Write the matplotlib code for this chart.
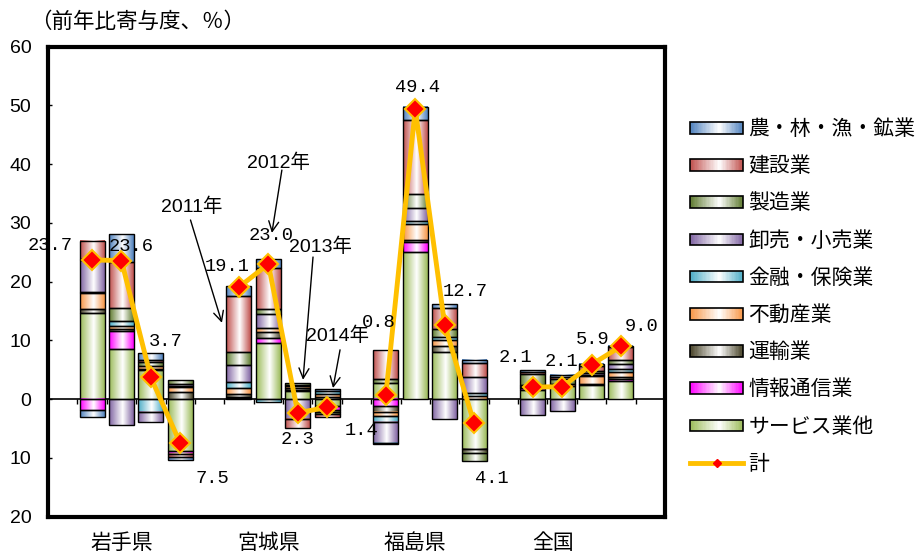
"""Stacked industry contributions to growth, with the total as a line."""

import numpy as np
import matplotlib
matplotlib.use("Agg")
import matplotlib.pyplot as plt
from matplotlib.colors import LinearSegmentedColormap
from matplotlib.legend_handler import HandlerBase
from matplotlib.lines import Line2D
from matplotlib.patches import Rectangle

plt.rcParams["font.family"] = ["Noto Sans CJK JP", "DejaVu Sans"]

regions = ["岩手県", "宮城県", "福島県", "全国"]
years = ["2011年", "2012年", "2013年", "2014年"]

# series in stacking order (first one sits next to the zero line)
industries = ["サービス業他", "情報通信業", "運輸業", "不動産業", "金融・保険業",
              "卸売・小売業", "製造業", "建設業", "農・林・漁・鉱業"]
colors = ["#9BBB59", "#FF00FF", "#494429", "#F79646", "#4BACC6",
          "#8064A2", "#5F7B30", "#C0504D", "#4F81BD"]

# contribution per bar: 岩手 2011-14, 宮城 2011-14, 福島 2011-14, 全国 2011-14
service = [14.6, 8.5, 5.0, -8.9, 0.2, 9.6, 1.4, -1.2, 2.7, 25.0, 8.0, -8.4, 1.5, 2.2, 2.4, 3.1]
info = [-1.9, 3.1, 0.0, -0.4, 0.2, 0.8, 0.2, -0.6, -1.2, 1.7, 0.0, 0.0, 0.4, 0.0, 0.0, 0.3]
transport = [0.8, 0.4, 0.2, 1.3, 0.5, 1.0, 0.3, 0.4, -1.0, 0.4, 1.1, -0.7, 0.2, 0.0, 0.2, 0.4]
real_estate = [2.6, 0.5, 0.5, 0.8, 1.0, 0.8, 0.3, 0.5, -0.7, 2.8, 0.9, 0.5, 0.2, 0.4, 1.3, 0.8]
finance = [0.2, 0.8, -2.1, 0.2, 1.0, -0.4, 0.2, 0.5, -0.9, 0.5, 0.6, 0.5, 0.2, 0.0, 0.3, 0.6]
wholesale = [5.5, -4.4, -1.8, 0.3, 2.9, 2.3, -3.3, -0.3, -3.6, 2.1, -3.4, 2.7, -2.7, -2.0, 0.3, 0.8]
manufacturing = [0.2, 2.2, 0.6, 0.6, 2.3, 0.8, 0.3, -0.4, 0.8, 2.4, 1.3, -1.5, 1.8, 0.8, 0.3, 0.7]
construction = [3.1, 7.9, 0.4, -0.6, 9.5, 7.1, -1.6, -0.5, 4.8, 12.6, 3.7, 2.4, 0.4, 0.4, 0.8, 2.2]
primary = [-1.1, 4.7, 1.1, -0.5, 1.6, 1.4, 0.0, 0.3, -0.2, 2.3, 0.6, 0.6, 0.3, 0.4, 0.4, 0.2]
total = [23.7, 23.6, 3.7, -7.5, 19.1, 23.0, -2.3, -1.4, 0.8, 49.4, 12.7, -4.1, 2.1, 2.1, 5.9, 9.0]

series = [service, info, transport, real_estate, finance,
          wholesale, manufacturing, construction, primary]

# value label offsets from the marker, in pixels (right, down)
label_offsets = [(-42, -14), (10, -14), (15, -36), (32, 35),
                 (-12, -20), (3, -29), (0, 27), (34, 23),
                 (-7, -72), (2, -21), (21, -33), (18, 55),
                 (-17, -29), (-1, -25), (1, -25), (21, -20)]

GOLD = "#FFC000"


def gradient_cmap(color):
    return LinearSegmentedColormap.from_list(
        "grad", [(0.0, color), (0.55, "#FFFFFF"), (1.0, color)])


class HandlerGradient(HandlerBase):
    """Legend key drawn as a horizontally shaded box."""

    def __init__(self, cmap):
        super().__init__()
        self.cmap = cmap

    def create_artists(self, legend, orig_handle, xdescent, ydescent,
                       width, height, fontsize, trans):
        h = height * 0.8
        y0 = -ydescent + (height - h) / 2
        n = 40
        artists = []
        for i in range(n):
            artists.append(Rectangle((-xdescent + width * i / n, y0), width / n * 1.1, h,
                                     facecolor=self.cmap((i + 0.5) / n),
                                     edgecolor="none", transform=trans))
        artists.append(Rectangle((-xdescent, y0), width, h, facecolor="none",
                                 edgecolor="black", linewidth=1.2, transform=trans))
        return artists


fig = plt.figure(figsize=(9.2, 5.54), dpi=100)
ax = fig.add_axes([48 / 920, 37.3 / 554, 617 / 920, 470 / 554])

x = np.array([g * 5 + 1 + j for g in range(4) for j in range(4)])
width = 0.85
grad = np.linspace(0, 1, 64).reshape(1, -1)

pos_base = np.zeros(len(x))
neg_base = np.zeros(len(x))
for color, values in zip(colors, series):
    vals = np.asarray(values, dtype=float)
    bottom = np.where(vals >= 0, pos_base, neg_base)
    shown = vals != 0
    bars = ax.bar(x[shown], vals[shown], width, bottom=bottom[shown],
                  facecolor="none", edgecolor="black", linewidth=1.0, zorder=3)
    cmap = gradient_cmap(color)
    for bar in bars:
        x0, y0 = bar.get_x(), bar.get_y()
        ax.imshow(grad, cmap=cmap, aspect="auto", interpolation="bilinear",
                  extent=[x0, x0 + bar.get_width(), y0, y0 + bar.get_height()],
                  zorder=2)
    pos_base += np.where(vals > 0, vals, 0)
    neg_base += np.where(vals < 0, vals, 0)

# total line, broken between regions
slots = np.arange(21)
line_y = np.full(21, np.nan)
line_y[x] = total
ax.plot(slots, line_y, color=GOLD, linewidth=3.5, marker="D", markersize=10,
        markerfacecolor="#FF0000", markeredgecolor=GOLD, markeredgewidth=1.5, zorder=5)

for xi, v, (dx, dy) in zip(x, total, label_offsets):
    ax.annotate(f"{abs(v):.1f}", (xi, v), xytext=(dx * 0.72, -dy * 0.72),
                textcoords="offset points", ha="center", va="center",
                fontsize=13.5, family="Liberation Mono", zorder=6)

# year call-outs over the 宮城県 bars
notes = [(years[0], (4.40, 32.7), (4.35, 30.5), (5.42, 13.0)),
         (years[1], (7.36, 40.2), (7.46, 39.0), (7.12, 28.3)),
         (years[2], (8.79, 25.9), (8.52, 24.2), (8.18, 3.3)),
         (years[3], (9.37, 10.8), (9.44, 8.4), (9.20, 1.9))]
for text, text_xy, tail, tip in notes:
    ax.text(*text_xy, text, ha="center", va="center", fontsize=14,
            family=["Liberation Sans", "Noto Sans CJK JP"], zorder=6)
    ax.annotate("", xy=tip, xytext=tail,
                arrowprops=dict(arrowstyle="->", color="black", linewidth=1.0,
                                shrinkA=0, shrinkB=0, mutation_scale=18), zorder=6)

ax.axhline(0, color="black", linewidth=1.2, zorder=1.5)
ax.vlines(np.arange(0.5, 20, 1), -0.9, 0, color="black", linewidth=1.0, zorder=1.5)

ax.set_xlim(-0.5, 20.5)
ax.set_ylim(-20, 60)
yticks = np.arange(-20, 61, 10)
ax.set_yticks(yticks, [str(abs(t)) for t in yticks], family="Liberation Sans", fontsize=14)
ax.set_xticks([2, 7, 12, 16.7], regions, fontsize=15)
ax.tick_params(axis="y", direction="in", length=3, width=1, pad=12)
ax.tick_params(axis="x", length=0, pad=11)
for spine in ax.spines.values():
    spine.set_linewidth(3)
    spine.set_zorder(7)

fig.text(30 / 920, 1 - 22 / 554, "（前年比寄与度、％）", fontsize=15.5, va="center")

handles = [Rectangle((0, 0), 1, 1) for _ in industries][::-1]
handler_map = {h: HandlerGradient(gradient_cmap(c)) for h, c in zip(handles, colors[::-1])}
total_handle = Line2D([], [], color=GOLD, linewidth=3.5, marker="D", markersize=4,
                      markerfacecolor="#FF0000", markeredgecolor="#FF0000")
fig.legend(handles + [total_handle], industries[::-1] + ["計"], handler_map=handler_map,
           loc="upper left", bbox_to_anchor=(690 / 920, 1 - 118 / 554),
           frameon=False, fontsize=15, handlelength=2.55, handletextpad=0.25,
           labelspacing=0.73, borderpad=0, borderaxespad=0, numpoints=1)

fig.savefig("out.png", dpi=100)
